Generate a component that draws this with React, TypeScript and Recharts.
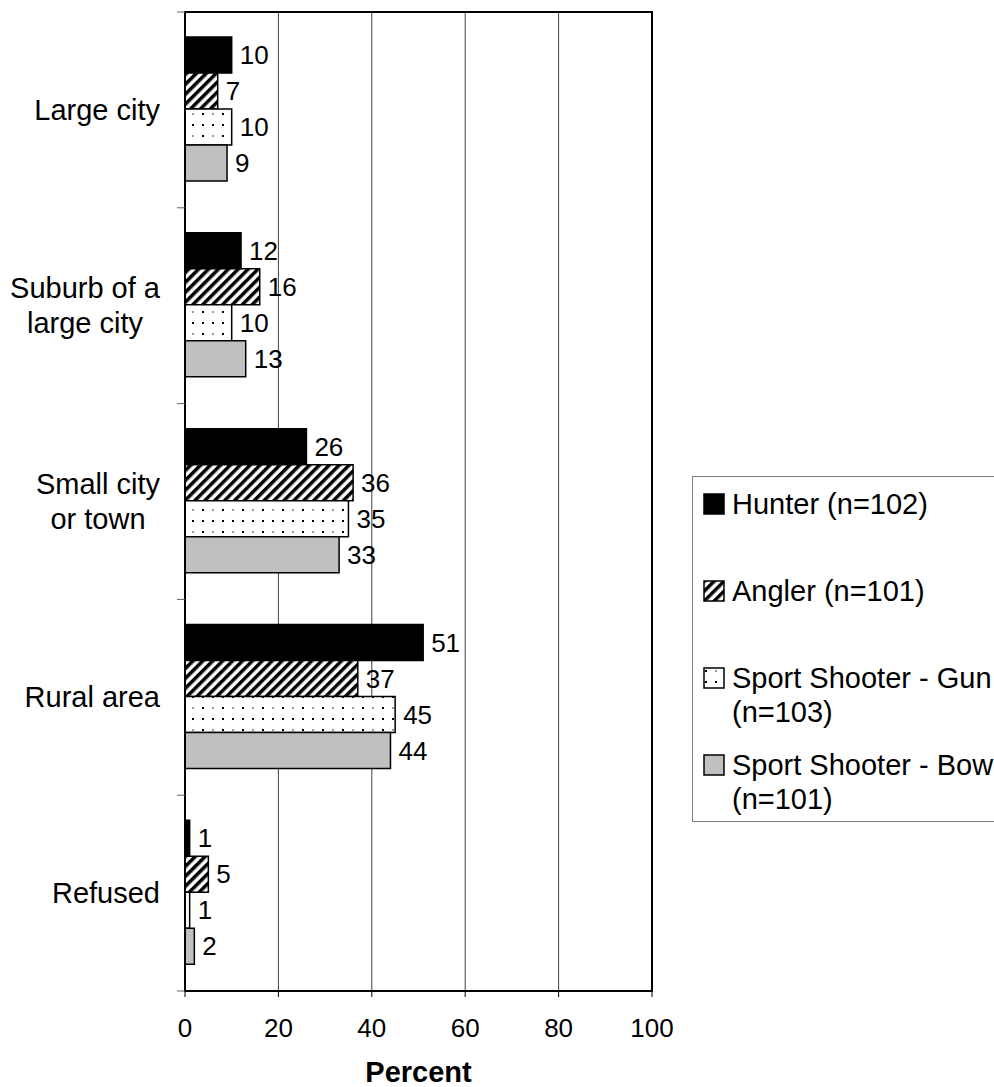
import React from "react";
import {
  BarChart,
  Bar,
  XAxis,
  YAxis,
  CartesianGrid,
  Legend,
  LabelList,
  ReferenceArea,
} from "recharts";

const categories = [
  "Large city",
  "Suburb of a\nlarge city",
  "Small city\nor town",
  "Rural area",
  "Refused",
];
const hunter = [10, 12, 26, 51, 1];
const angler = [7, 16, 36, 37, 5];
const shooterGun = [10, 10, 35, 45, 1];
const shooterBow = [9, 13, 33, 44, 2];
const xTicks = [0, 20, 40, 60, 80, 100];

const seriesNames = [
  "Hunter (n=102)",
  "Angler (n=101)",
  "Sport Shooter - Gun (n=103)",
  "Sport Shooter - Bow (n=101)",
];

const FONT = "'Liberation Sans', Arial, sans-serif";
const TEXT_SIZE = 29;

const data = categories.map((category, i) => ({
  category,
  hunter: hunter[i],
  angler: angler[i],
  gun: shooterGun[i],
  bow: shooterBow[i],
}));

const series = [
  { key: "hunter", name: seriesNames[0], fill: "#000000" },
  { key: "angler", name: seriesNames[1], fill: "url(#hatch)" },
  { key: "gun", name: seriesNames[2], fill: "url(#dots)" },
  { key: "bow", name: seriesNames[3], fill: "#c0c0c0" },
];

let ctx: CanvasRenderingContext2D | null = null;
function measure(text: string, size: number) {
  if (!ctx) ctx = document.createElement("canvas").getContext("2d");
  if (!ctx) return text.length * size * 0.5;
  ctx.font = `${size}px 'Liberation Sans', Arial, sans-serif`;
  return ctx.measureText(text).width;
}

// category label, plus tick marks on the band edges
function CategoryTick(props: any) {
  const { x, y, payload, index, height } = props;
  const half =
    payload && typeof payload.offset === "number" && payload.offset > 0
      ? payload.offset
      : height / (2 * categories.length);
  const lines = String(payload.value).split("\n");
  const maxW = Math.max(...lines.map((l) => measure(l, TEXT_SIZE)));
  const cx = x - maxW / 2;
  const lineH = 35;
  const startY = y - ((lines.length - 1) * lineH) / 2;
  const axisX = x + 25;
  return (
    <g>
      <line x1={axisX - 8} x2={axisX} y1={y - half} y2={y - half} stroke="#606060" />
      {index === categories.length - 1 && (
        <line x1={axisX - 8} x2={axisX} y1={y + half} y2={y + half} stroke="#606060" />
      )}
      {lines.map((l, i) => (
        <text
          key={i}
          x={cx}
          y={startY + i * lineH}
          textAnchor="middle"
          dominantBaseline="central"
          fontSize={TEXT_SIZE}
          fontFamily={FONT}
          fill="#000"
        >
          {l}
        </text>
      ))}
    </g>
  );
}

function LegendBox() {
  return (
    <div
      style={{
        width: 310,
        height: 346,
        border: "1px solid #808080",
        boxSizing: "border-box",
        background: "#fff",
        position: "relative",
        fontFamily: FONT,
        fontSize: TEXT_SIZE,
        lineHeight: "34px",
        color: "#000",
      }}
    >
      {series.map((s, i) => (
        <div
          key={s.key}
          style={{
            position: "absolute",
            left: 10,
            top: 10 + i * 87,
            display: "flex",
            alignItems: "flex-start",
          }}
        >
          <svg width={22} height={22} style={{ marginTop: 6, marginRight: 7 }}>
            <rect
              x={1}
              y={1}
              width={20}
              height={20}
              fill={s.fill}
              stroke="#000"
              strokeWidth={1.5}
            />
          </svg>
          <div style={{ width: 266 }}>{s.name}</div>
        </div>
      ))}
    </div>
  );
}

export default function App() {
  return (
    <div
      style={{
        position: "absolute",
        left: 0,
        top: 0,
        width: 994,
        height: 1087,
        overflow: "hidden",
        background: "#fff",
      }}
    >
      <BarChart
        width={994}
        height={1087}
        data={data}
        layout="vertical"
        margin={{ top: 12, right: 342, bottom: 0, left: 10 }}
        barCategoryGap="12.8%"
        barGap={0}
      >
        <defs>
          <pattern
            id="hatch"
            width={7}
            height={7}
            patternUnits="userSpaceOnUse"
            patternTransform="rotate(45)"
          >
            <rect width={7} height={7} fill="#fff" />
            <rect width={3.5} height={7} fill="#000" />
          </pattern>
          <pattern id="dots" width={20} height={22} patternUnits="userSpaceOnUse">
            <rect width={20} height={22} fill="#fff" />
            <rect x={2} y={3} width={2} height={2} fill="#000" />
            <rect x={12} y={3} width={2} height={2} fill="#999" />
            <rect x={2} y={14} width={2} height={2} fill="#000" />
            <rect x={12} y={14} width={2} height={2} fill="#000" />
          </pattern>
        </defs>
        <CartesianGrid horizontal={false} vertical stroke="#404040" strokeWidth={1} />
        <XAxis
          type="number"
          domain={[0, 100]}
          ticks={xTicks}
          interval={0}
          height={96}
          tickSize={6}
          tickMargin={22}
          axisLine={{ stroke: "#000", strokeWidth: 2 }}
          tickLine={{ stroke: "#000" }}
          tick={{ fontSize: 26, fontFamily: FONT, fill: "#000" }}
          label={{
            value: "Percent",
            position: "insideBottom",
            offset: 5,
            fontSize: TEXT_SIZE,
            fontWeight: "bold",
            fontFamily: FONT,
            fill: "#000",
          }}
        />
        <YAxis
          type="category"
          dataKey="category"
          width={175}
          tickLine={false}
          tickSize={6}
          tickMargin={19}
          axisLine={{ stroke: "#000", strokeWidth: 2 }}
          tick={<CategoryTick />}
          interval={0}
        />
        <ReferenceArea
          x1={0}
          x2={100}
          fill="none"
          stroke="#000"
          strokeWidth={2}
          ifOverflow="visible"
        />
        {series.map((s) => (
          <Bar
            key={s.key}
            dataKey={s.key}
            name={s.name}
            fill={s.fill}
            stroke="#000"
            strokeWidth={1.5}
            isAnimationActive={false}
          >
            <LabelList
              dataKey={s.key}
              position="right"
              offset={8}
              fontSize={26}
              fontFamily={FONT}
              fill="#000"
            />
          </Bar>
        ))}
        <Legend
          layout="vertical"
          align="center"
          verticalAlign="middle"
          content={() => <LegendBox />}
          wrapperStyle={{
            position: "absolute",
            left: 692,
            top: 476,
            width: 310,
            height: 346,
          }}
        />
      </BarChart>
    </div>
  );
}
